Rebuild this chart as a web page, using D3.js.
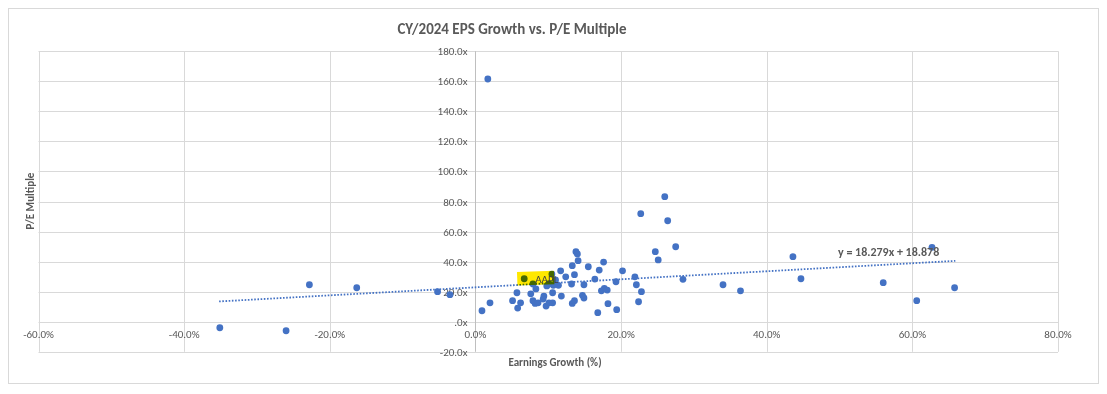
<!DOCTYPE html>
<html>
<head>
<meta charset="utf-8">
<script src="https://cdn.jsdelivr.net/npm/d3@7"></script>
<style>
	body { margin: 0; background: #fff; }
	text { font-family: Calibri, Carlito, "Liberation Sans", Arial, sans-serif; }
</style>
</head>
<body>
<div id="chart"></div>
<script>
// earnings growth (fraction) and P/E multiple
var growth = [-0.351, -0.260, -0.228, -0.163, -0.052, -0.035, 0.017, 0.009, 0.020, 0.051,
	0.057, 0.058, 0.062, 0.067, 0.076, 0.079, 0.083, 0.079, 0.082, 0.086,
	0.094, 0.093, 0.097, 0.101, 0.106, 0.106, 0.105, 0.101, 0.098, 0.107,
	0.110, 0.114, 0.117, 0.124, 0.118, 0.133, 0.132, 0.133, 0.136, 0.136,
	0.138, 0.140, 0.141, 0.149, 0.147, 0.149, 0.155, 0.164, 0.170, 0.168,
	0.176, 0.173, 0.177, 0.181, 0.182, 0.193, 0.194, 0.202, 0.219, 0.221,
	0.224, 0.228, 0.227, 0.247, 0.251, 0.260, 0.264, 0.275, 0.285, 0.340,
	0.364, 0.436, 0.447, 0.560, 0.606, 0.627, 0.658];
var peMultiple = [-4.0, -6.0, 24.6, 22.6, 20.0, 18.0, 161.5, 7.3, 12.6, 14.0,
	19.3, 9.1, 12.6, 28.6, 18.6, 25.1, 21.8, 14.0, 12.2, 12.6,
	17.1, 15.1, 10.4, 12.6, 12.6, 19.3, 31.7, 25.3, 23.8, 24.2,
	27.8, 24.2, 33.9, 29.9, 17.1, 37.3, 25.1, 12.2, 14.0, 31.3,
	46.6, 45.1, 40.6, 24.6, 17.6, 15.8, 36.6, 28.4, 34.4, 6.0,
	39.7, 20.6, 22.2, 21.1, 12.0, 26.6, 8.0, 33.9, 29.9, 24.6,
	13.3, 20.0, 71.9, 46.6, 41.1, 83.2, 67.2, 49.9, 28.2, 24.6,
	20.6, 43.3, 28.6, 26.0, 14.0, 49.5, 22.6];
var labelIndex = 13;   // AAPL
var labelText = "AAPL";

var xTicks = [-0.6, -0.4, -0.2, 0, 0.2, 0.4, 0.6, 0.8];
var yTicks = [-20, 0, 20, 40, 60, 80, 100, 120, 140, 160, 180];

// dotted trendline as drawn (end points)
var trendX = [-0.352, 0.659];
var trendY = [13.5, 40.5];
var trendLabel = "y = 18.279x + 18.878";

(function() {
	var width = 1107,
		height = 394;

	var svg = d3.select("#chart")
		.append("svg")
		.attr("width", width)
		.attr("height", height);

	svg.append("rect")
		.attr("x", 8.5).attr("y", 8.5)
		.attr("width", 1090).attr("height", 375)
		.attr("fill", "#fff")
		.attr("stroke", "#D9D9D9");

	var x = d3.scaleLinear().domain([-0.6, 0.8]).range([38.5, 1058]);
	var y = d3.scaleLinear().domain([-20, 180]).range([351.8, 51.2]);

	// gridlines
	svg.append("g").selectAll("line")
		.data(yTicks)
		.enter().append("line")
		.attr("x1", x(-0.6)).attr("x2", x(0.8))
		.attr("y1", function(d) { return Math.round(y(d)) + 0.5; })
		.attr("y2", function(d) { return Math.round(y(d)) + 0.5; })
		.attr("stroke", "#D9D9D9");

	svg.append("g").selectAll("line")
		.data(xTicks)
		.enter().append("line")
		.attr("y1", y(-20)).attr("y2", y(180))
		.attr("x1", function(d) { return Math.round(x(d)) + 0.5; })
		.attr("x2", function(d) { return Math.round(x(d)) + 0.5; })
		.attr("stroke", function(d) { return d === 0 ? "#BFBFBF" : "#D9D9D9"; });

	// tick labels sit next to the axes that cross at zero
	svg.append("g").selectAll("text")
		.data(yTicks)
		.enter().append("text")
		.attr("x", x(0) - 8)
		.attr("y", function(d) { return y(d) + 4; })
		.attr("text-anchor", "end")
		.attr("font-size", "11px")
		.attr("fill", "#595959")
		.text(function(d) {
			return d === 0 ? ".0x" : d.toFixed(1) + "x";
		});

	svg.append("g").selectAll("text")
		.data(xTicks)
		.enter().append("text")
		.attr("x", function(d) { return x(d); })
		.attr("y", y(0) + 16)
		.attr("text-anchor", "middle")
		.attr("font-size", "11px")
		.attr("fill", "#595959")
		.text(function(d) { return (d * 100).toFixed(1) + "%"; });

	var points = growth.map(function(g, i) {
		return { g: g, pe: peMultiple[i] };
	});

	svg.append("g").selectAll("circle")
		.data(points)
		.enter().append("circle")
		.attr("cx", function(d) { return x(d.g); })
		.attr("cy", function(d) { return y(d.pe); })
		.attr("r", 3.4)
		.attr("fill", "#4472C4");

	svg.append("line")
		.attr("x1", x(trendX[0])).attr("y1", y(trendY[0]))
		.attr("x2", x(trendX[1])).attr("y2", y(trendY[1]))
		.attr("stroke", "#4472C4")
		.attr("stroke-width", 1.8)
		.attr("stroke-dasharray", "1.6,1.6");

	// highlighted label
	var lp = points[labelIndex];
	svg.append("rect")
		.attr("x", x(lp.g) - 7)
		.attr("y", y(lp.pe) - 7)
		.attr("width", 37)
		.attr("height", 13.5)
		.attr("transform", "rotate(-2," + x(lp.g) + "," + y(lp.pe) + ")")
		.attr("fill", "#FFE800")
		.style("mix-blend-mode", "multiply");

	svg.append("text")
		.attr("x", x(lp.g) + 11)
		.attr("y", y(lp.pe) + 4)
		.attr("font-size", "11px")
		.attr("fill", "#404040")
		.text(labelText);

	svg.append("text")
		.attr("x", 838)
		.attr("y", 256)
		.attr("font-size", "12px")
		.attr("font-weight", "bold")
		.attr("fill", "#595959")
		.text(trendLabel);

	svg.append("text")
		.attr("x", 512)
		.attr("y", 34)
		.attr("text-anchor", "middle")
		.attr("font-size", "15px")
		.attr("font-weight", "bold")
		.attr("fill", "#595959")
		.text("CY/2024 EPS Growth vs. P/E Multiple");

	svg.append("text")
		.attr("x", 555)
		.attr("y", 366)
		.attr("text-anchor", "middle")
		.attr("font-size", "11px")
		.attr("font-weight", "bold")
		.attr("fill", "#595959")
		.text("Earnings Growth (%)");

	svg.append("text")
		.attr("transform", "translate(34,201) rotate(-90)")
		.attr("text-anchor", "middle")
		.attr("font-size", "11px")
		.attr("font-weight", "bold")
		.attr("fill", "#595959")
		.text("P/E Multiple");
})();
</script>
</body>
</html>
